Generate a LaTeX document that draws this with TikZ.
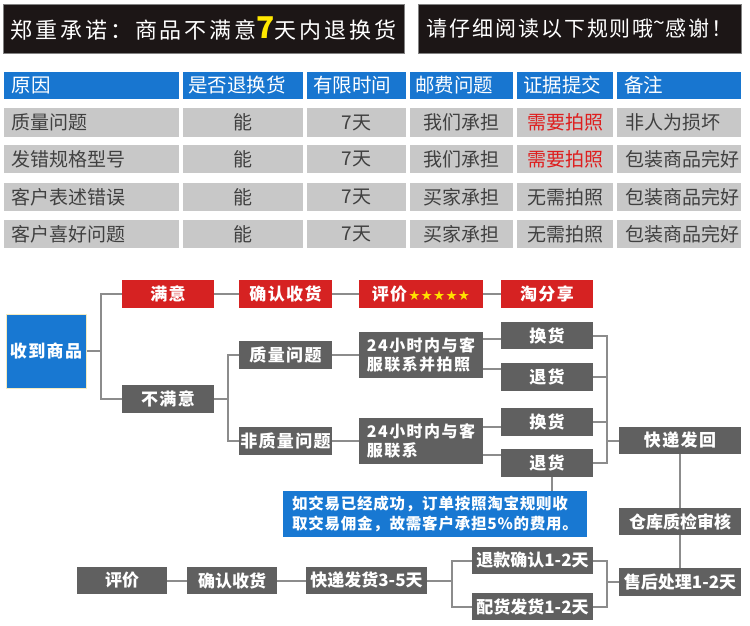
\documentclass[tikz,border=0pt]{standalone}
\usepackage{fontspec}
\setmainfont{Noto Sans CJK SC}
\newfontfamily\symfont{DejaVu Sans}
\usetikzlibrary{calc}
\definecolor{banblack}{RGB}{28,22,22}
\definecolor{bangray}{RGB}{130,130,130}
\definecolor{hdblue}{RGB}{24,118,208}
\definecolor{cellgray}{RGB}{200,200,200}
\definecolor{celltext}{RGB}{64,64,64}
\definecolor{redtext}{RGB}{222,30,30}
\definecolor{boxred}{RGB}{214,34,34}
\definecolor{boxgray}{RGB}{96,96,96}
\definecolor{lineg}{RGB}{140,140,140}
\definecolor{boxblue}{RGB}{24,120,210}
\definecolor{starye}{RGB}{255,225,0}
\definecolor{sevenye}{RGB}{255,232,0}
\definecolor{cream}{RGB}{245,235,190}
\newcommand\fbig{\fontsize{17}{20}\selectfont\bfseries\addfontfeature{LetterSpace=8}}
\newcommand\fcond{\fontsize{17}{20}\selectfont\bfseries}
\newcommand\ftwo{\fontsize{16}{19}\selectfont\bfseries\addfontfeature{LetterSpace=9}}
\newcommand\fnote{\fontsize{15.5}{19.5}\selectfont\bfseries\addfontfeature{LetterSpace=5}}
\newcommand\bx[7]{%
 \pgfmathsetmacro\bxw{#4-#2}%
 \pgfmathsetmacro\bxh{#5-#3}%
 \node[inner sep=0pt,minimum width=\bxw pt,minimum height=\bxh pt,#6] (#1) at ({(#2+#4)/2},{(#3+#5)/2}) {#7};}
\newcommand\cellL[8]{%
 \pgfmathsetmacro\bxw{#4-#2-2*#6}%
 \pgfmathsetmacro\bxh{#5-#3}%
 \node[inner ysep=0pt,inner xsep=#6pt,text width=\bxw pt,align=left,minimum height=\bxh pt,#7] (#1) at ({(#2+#4)/2},{(#3+#5)/2}) {#8};}
\newcommand\stf{\makebox[12.4pt]{★}}
\begin{document}
\begin{tikzpicture}[x=1pt,y=-1pt,
  banner/.style={fill=banblack,draw=bangray,line width=0.8pt,text=white},
  th/.style={fill=hdblue,text=white,font=\fontsize{19.5}{22}\selectfont},
  td/.style={fill=cellgray,text=celltext,font=\fontsize{19}{22}\selectfont},
  tdr/.style={td,text=redtext},
  redbox/.style={fill=boxred,text=white,font=\fbig},
  graybox/.style={fill=boxgray,text=white,font=\fbig},
  graytwo/.style={fill=boxgray,text=white,font=\ftwo,align=left},
  graycond/.style={fill=boxgray,text=white,font=\fcond},
  bluebox/.style={fill=boxblue,text=white,font=\fbig},
  notebox/.style={fill=boxblue,text=white,font=\fnote,align=left},
  conn/.style={draw=lineg,line width=2pt}]
\fill[white] (0,0) rectangle (750,626);
\useasboundingbox (0,0) rectangle (750,626);
% banners
\bx{bL}{3}{4}{404}{53}{banner,font=\fontsize{22}{26}\selectfont\addfontfeature{LetterSpace=13}}{郑重承诺：商品不满意{\color{sevenye}\fontsize{30}{30}\selectfont\bfseries 7}天内退换货}
\bx{bR}{418}{4}{741}{53}{banner,font=\fontsize{21}{26}\selectfont\addfontfeature{LetterSpace=9}}{请仔细阅读以下规则哦\raisebox{0.3em}{\textasciitilde}感谢！}
% table header
\cellL{h1}{4}{72}{179}{99}{8}{th}{原因}
\cellL{h2}{183}{72}{303}{99}{5}{th}{是否退换货}
\cellL{h3}{307}{72}{406}{99}{6}{th}{有限时间}
\cellL{h4}{410}{72}{513}{99}{5}{th}{邮费问题}
\cellL{h5}{517}{72}{613}{99}{6}{th}{证据提交}
\cellL{h6}{617}{72}{741}{99}{7}{th}{备注}
% row 1
\cellL{r1a}{4}{108}{179}{137}{8}{td}{质量问题}
\bx{r1b}{183}{108}{303}{137}{td}{能}
\bx{r1c}{307}{108}{406}{137}{td}{7天}
\bx{r1d}{410}{108}{513}{137}{td}{我们承担}
\bx{r1e}{517}{108}{613}{137}{tdr}{需要拍照}
\cellL{r1f}{617}{108}{741}{137}{8}{td}{非人为损坏}
% row 2
\cellL{r2a}{4}{145}{179}{173}{8}{td}{发错规格型号}
\bx{r2b}{183}{145}{303}{173}{td}{能}
\bx{r2c}{307}{145}{406}{173}{td}{7天}
\bx{r2d}{410}{145}{513}{173}{td}{我们承担}
\bx{r2e}{517}{145}{613}{173}{tdr}{需要拍照}
\cellL{r2f}{617}{145}{741}{173}{8}{td}{包装商品完好}
% row 3
\cellL{r3a}{4}{183}{179}{211}{8}{td}{客户表述错误}
\bx{r3b}{183}{183}{303}{211}{td}{能}
\bx{r3c}{307}{183}{406}{211}{td}{7天}
\bx{r3d}{410}{183}{513}{211}{td}{买家承担}
\bx{r3e}{517}{183}{613}{211}{td}{无需拍照}
\cellL{r3f}{617}{183}{741}{211}{8}{td}{包装商品完好}
% row 4
\cellL{r4a}{4}{220}{179}{248}{8}{td}{客户喜好问题}
\bx{r4b}{183}{220}{303}{248}{td}{能}
\bx{r4c}{307}{220}{406}{248}{td}{7天}
\bx{r4d}{410}{220}{513}{248}{td}{买家承担}
\bx{r4e}{517}{220}{613}{248}{td}{无需拍照}
\cellL{r4f}{617}{220}{741}{248}{8}{td}{包装商品完好}
% flow boxes
\bx{shou}{6}{314}{86}{388}{bluebox,draw=cream,line width=1pt}{收到商品}
\bx{manyi}{122}{280}{214}{308}{redbox}{满意}
\bx{qrsh}{239}{280}{332}{308}{redbox}{确认收货}
\bx{pj}{359}{280}{483}{308}{redbox}{评价\hspace{1pt}{\symfont\fontsize{13.5}{14}\selectfont\color{starye}\stf\stf\stf\stf\stf}}
\bx{tfx}{501}{280}{593}{308}{redbox}{淘分享}
\bx{bumanyi}{122}{385}{214}{413}{graybox}{不满意}
\bx{zlwt}{239}{341}{332}{369}{graybox}{质量问题}
\bx{fzl}{239}{427}{332}{455}{graybox}{非质量问题}
\bx{h24a}{359}{332}{483}{378}{graytwo}{24小时内与客\\服联系并拍照}
\bx{h24b}{359}{418}{483}{464}{graytwo}{24小时内与客\\服联系}
\bx{hh1}{501}{322}{593}{349}{graybox}{换货}
\bx{th1}{501}{363}{593}{391}{graybox}{退货}
\bx{hh2}{501}{408}{593}{436}{graybox}{换货}
\bx{th2}{501}{449}{593}{477}{graybox}{退货}
\bx{kdfh}{619}{427}{741}{454}{graybox}{快递发回}
\bx{note}{283}{491}{587}{537}{notebox}{如交易已经成功，订单按照淘宝规则收\\取交易佣金，故需客户承担5\%的费用。}
\bx{ckzj}{619}{508}{741}{535}{graycond}{仓库质检审核}
\bx{shcl}{619}{568}{741}{596}{graycond}{售后处理1-2天}
\bx{tkqr}{472}{547}{593}{574}{graycond}{退款确认1-2天}
\bx{phfh}{472}{593}{593}{620}{graycond}{配货发货1-2天}
\bx{kdfh2}{306}{567}{427}{594}{graycond}{快递发货3-5天}
\bx{qrsh2}{187}{567}{277}{594}{graycond}{确认收货}
\bx{pj2}{77}{567}{167}{594}{graycond}{评价}
% connectors
\coordinate (j1) at ($(shou.east)+(14,0)$);
\draw[conn] (shou.east) -- (j1);
\draw[conn] (manyi.west) -| (j1);
\draw[conn] (bumanyi.west) -| (j1);
\draw[conn] (manyi.east) -- (qrsh.west);
\draw[conn] (qrsh.east) -- (pj.west);
\draw[conn] (pj.east) -- (tfx.west);
\coordinate (j2) at ($(bumanyi.east)+(14,0)$);
\draw[conn] (bumanyi.east) -- (j2);
\draw[conn] (zlwt.west) -| (j2);
\draw[conn] (fzl.west) -| (j2);
\draw[conn] (zlwt.east) -- (h24a.west);
\draw[conn] (fzl.east) -- (h24b.west);
\coordinate (c1) at ([yshift=-3.5pt]hh1.west);
\draw[conn] (c1) -- (c1 -| h24a.east);
\coordinate (c2) at ([yshift=8pt]th1.west);
\draw[conn] (c2) -- (c2 -| h24a.east);
\coordinate (c3) at ([yshift=-5pt]hh2.west);
\draw[conn] (c3) -- (c3 -| h24b.east);
\coordinate (c4) at ([yshift=8pt]th2.west);
\draw[conn] (c4) -- (c4 -| h24b.east);
\draw[conn] (hh1.east) -- ++(14,0) |- (th2.east);
\draw[conn] (th1.east) -- ++(14,0);
\draw[conn] (hh2.east) -- ++(14,0);
\draw[conn] (kdfh.west) -- ++(-12,0);
\coordinate (c5) at ([xshift=5pt]th2.south);
\draw[conn] (c5) -- (c5 |- note.north);
\draw[conn] (kdfh.south) -- (ckzj.north);
\draw[conn] (ckzj.south) -- (shcl.north);
\draw[conn] (shcl.west) -- ++(-12,0) coordinate (j5);
\draw[conn] (tkqr.east) -| (j5);
\draw[conn] (phfh.east) -| (j5);
\draw[conn] (kdfh2.east) -- ++(25,0) coordinate (j6);
\draw[conn] (tkqr.west) -| (j6);
\draw[conn] (phfh.west) -| (j6);
\draw[conn] (kdfh2.west) -- (qrsh2.east);
\draw[conn] (qrsh2.west) -- (pj2.east);
\end{tikzpicture}
\end{document}
